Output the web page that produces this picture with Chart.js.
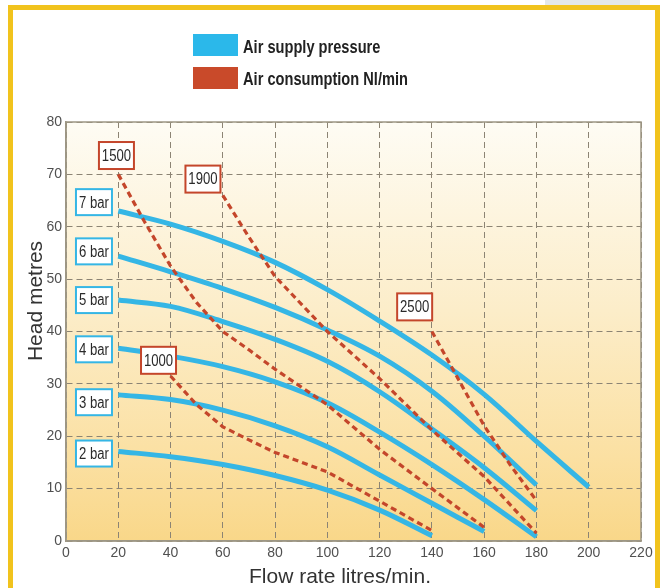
<!DOCTYPE html>
<html><head><meta charset="utf-8">
<script src="https://cdn.jsdelivr.net/npm/chart.js@4.4.1/dist/chart.umd.min.js"></script>
<style>
html,body{margin:0;padding:0;background:#fff;width:667px;height:588px;overflow:hidden;}
#patch{position:absolute;left:545px;top:0;width:95px;height:5px;background:#e4e8e8;}
#frame{position:absolute;left:8px;top:5px;width:642px;height:600px;border:5px solid #f1c31d;border-bottom:none;background:#fff;}
canvas{position:absolute;left:0;top:0;}
</style></head>
<body><div id="patch"></div><div id="frame"></div><canvas id="c" width="667" height="588"></canvas>
<script>
// ---- data ----
const flowTo200 = [20, 40, 60, 80, 100, 120, 140, 160, 180, 200];
const flowTo180 = [20, 40, 60, 80, 100, 120, 140, 160, 180];
const flowTo160 = [20, 40, 60, 80, 100, 120, 140, 160];
const flowTo140 = [20, 40, 60, 80, 100, 120, 140];

const head7bar = [63, 60.5, 57.2, 53.2, 48, 42, 35.5, 28, 19, 10.3];
const head6bar = [54.4, 51.4, 48.2, 44.6, 40.3, 35.3, 28.6, 20, 10.7];
const head5bar = [46, 44.8, 41.9, 38.5, 34.3, 28.5, 21.4, 14, 5.8];
const head4bar = [36.8, 35.3, 33.3, 30.4, 26.4, 20.8, 14.6, 7.9, 0.8];
const head3bar = [27.9, 27, 25, 22, 18, 12.6, 7.2, 1.8];
const head2bar = [17.1, 16.1, 14.6, 12.5, 9.7, 5.9, 1];

const flow1000 = [40, 50, 60, 70, 80, 100, 120, 140];
const head1000 = [31.5, 26, 21.8, 19.3, 16.9, 13.2, 7.6, 2];
const flow1500 = [20, 30, 40, 50, 60, 70, 80, 100, 120, 140, 160];
const head1500 = [70, 61, 52.5, 45.5, 40, 36.5, 32.8, 26, 17.5, 10, 2.6];
const flow1900 = [60, 70, 80, 100, 120, 140, 160, 180];
const head1900 = [66, 58, 50.5, 40, 31, 21.2, 12.3, 1.5];
const flow2500 = [140, 150, 160, 170, 180];
const head2500 = [40, 31, 22, 14.5, 7.7];

const pressureNames = ['7 bar', '6 bar', '5 bar', '4 bar', '3 bar', '2 bar'];
const consumptionNames = ['1500', '1900', '2500', '1000'];
const xTickValues = [0, 20, 40, 60, 80, 100, 120, 140, 160, 180, 200, 220];
const yTickValues = [0, 10, 20, 30, 40, 50, 60, 70, 80];
const legendNames = ['Air supply pressure', 'Air consumption Nl/min'];
const xTitle = 'Flow rate litres/min.';
const yTitle = 'Head metres';

// ---- styling / placement ----
const BLUE = '#35b6e5';
const RED = '#c4462b';
const pts = (xs, ys) => xs.map((x, i) => ({x, y: ys[i]}));

const blueSets = [
  pts(flowTo200, head7bar), pts(flowTo180, head6bar), pts(flowTo180, head5bar),
  pts(flowTo180, head4bar), pts(flowTo160, head3bar), pts(flowTo140, head2bar)
].map((d, i) => ({label: pressureNames[i], data: d, borderColor: BLUE, borderWidth: 5,
  tension: 0.35, pointRadius: 0, fill: false, order: 2, borderCapStyle: 'butt'}));

const redSets = [
  pts(flow1500, head1500), pts(flow1900, head1900), pts(flow2500, head2500), pts(flow1000, head1000)
].map((d, i) => ({label: consumptionNames[i], data: d, borderColor: RED, borderWidth: 3.2,
  borderDash: [6, 4], tension: 0, pointRadius: 0, fill: false, order: 1}));

// label anchors (data units)
const pressureAnchors = [[10.7, 64.7], [10.7, 55.3], [10.7, 46.0], [10.7, 36.6], [10.7, 26.5], [10.7, 16.7]];
const consumptionAnchors = [[19.3, 73.6], [52.4, 69.1], [133.4, 44.7], [35.4, 34.5]];

function narrowText(ctx, txt, x, y, sx, align) {
  ctx.save();
  ctx.translate(x, y);
  ctx.scale(sx, 1);
  ctx.textAlign = align;
  ctx.fillText(txt, 0, 0);
  ctx.restore();
}

const deco = {
  id: 'deco',
  beforeDraw(chart) {
    const {ctx, chartArea: a} = chart;
    const g = ctx.createLinearGradient(0, a.top, 0, a.bottom);
    g.addColorStop(0, '#fefcf4');
    g.addColorStop(0.45, '#fcedc9');
    g.addColorStop(0.8, '#fbe0a2');
    g.addColorStop(1, '#f9d789');
    ctx.save();
    ctx.fillStyle = g;
    ctx.fillRect(a.left, a.top, a.right - a.left, a.bottom - a.top);
    ctx.restore();
  },
  beforeDatasetsDraw(chart) {
    const {ctx, chartArea: a} = chart;
    ctx.save();
    ctx.strokeStyle = '#9d9684';
    ctx.lineWidth = 1.5;
    ctx.strokeRect(a.left, a.top, a.right - a.left, a.bottom - a.top);
    ctx.restore();
  },
  afterDatasetsDraw(chart) {
    const {ctx, scales: {x, y}} = chart;
    const box = (txt, ax, ay, w, h, col) => {
      const cx = x.getPixelForValue(ax), cy = y.getPixelForValue(ay);
      ctx.fillStyle = '#ffffff';
      ctx.fillRect(cx - w / 2, cy - h / 2, w, h);
      ctx.strokeStyle = col;
      ctx.lineWidth = 2;
      ctx.strokeRect(cx - w / 2, cy - h / 2, w, h);
      ctx.fillStyle = '#2a2a2a';
      ctx.font = '16px "Liberation Sans", sans-serif';
      ctx.textBaseline = 'middle';
      narrowText(ctx, txt, cx, cy + 1, 0.82, 'center');
    };
    ctx.save();
    pressureNames.forEach((n, i) => box(n, pressureAnchors[i][0], pressureAnchors[i][1], 36, 26, BLUE));
    consumptionNames.forEach((n, i) => box(n, consumptionAnchors[i][0], consumptionAnchors[i][1], 35, 27, RED));
    ctx.restore();
  },
  afterDraw(chart) {
    const {ctx} = chart;
    ctx.save();
    // legend
    ctx.fillStyle = '#2bb8ea';
    ctx.fillRect(193, 34, 45, 22);
    ctx.fillStyle = '#c94a2a';
    ctx.fillRect(193, 67, 45, 22);
    ctx.fillStyle = '#222';
    ctx.font = 'bold 19px "Liberation Sans", sans-serif';
    ctx.textBaseline = 'alphabetic';
    narrowText(ctx, legendNames[0], 243, 53, 0.77, 'left');
    narrowText(ctx, legendNames[1], 243, 85, 0.77, 'left');
    // axis titles
    ctx.fillStyle = '#333';
    ctx.font = '21px "Liberation Sans", sans-serif';
    ctx.textAlign = 'center';
    ctx.fillText(xTitle, 340, 583);
    ctx.translate(42, 301);
    ctx.rotate(-Math.PI / 2);
    ctx.fillText(yTitle, 0, 0);
    ctx.restore();
  }
};

new Chart(document.getElementById('c'), {
  type: 'line',
  data: {datasets: [...redSets, ...blueSets]},
  options: {
    responsive: false,
    animation: false,
    devicePixelRatio: 1,
    layout: {padding: {left: 0, top: 122, right: 26, bottom: 0}},
    plugins: {legend: {display: false}, tooltip: {enabled: false}},
    scales: {
      x: {
        type: 'linear', min: 0, max: 220,
        afterBuildTicks: s => { s.ticks = xTickValues.map(v => ({value: v})); },
        afterFit: s => { s.height = 47; },
        ticks: {color: '#505050', font: {family: '"Liberation Sans", sans-serif', size: 14}, padding: 4, maxRotation: 0},
        grid: {color: '#8c8474', lineWidth: 1, drawTicks: false},
        border: {display: true, color: '#9d9684', width: 1.5, dash: [6, 4]}
      },
      y: {
        type: 'linear', min: 0, max: 80,
        afterBuildTicks: s => { s.ticks = yTickValues.map(v => ({value: v})); },
        afterFit: s => { s.width = 66; },
        ticks: {color: '#505050', font: {family: '"Liberation Sans", sans-serif', size: 14}, padding: 4},
        grid: {color: '#8c8474', lineWidth: 1, drawTicks: false},
        border: {display: true, color: '#9d9684', width: 1.5, dash: [6, 4]}
      }
    }
  },
  plugins: [deco]
});
</script></body></html>
